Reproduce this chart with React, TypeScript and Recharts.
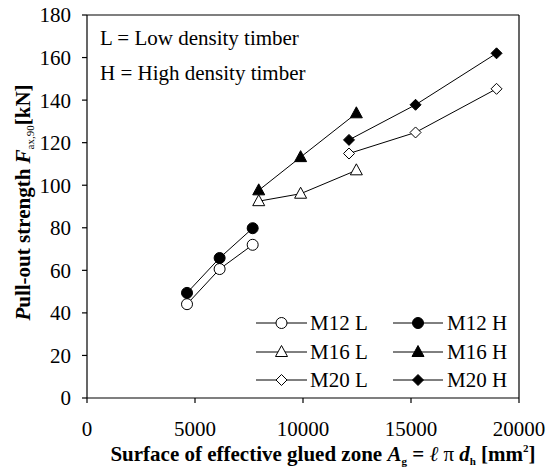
import React from 'react';
import { ScatterChart, Scatter, XAxis, YAxis, ReferenceLine, Customized, Label } from 'recharts';

// Surface of effective glued zone A_g [mm²] vs pull-out strength F_ax,90 [kN]
const m12L = [{ x: 4630, y: 44.1 }, { x: 6140, y: 60.6 }, { x: 7670, y: 72.0 }];
const m12H = [{ x: 4630, y: 49.4 }, { x: 6140, y: 65.8 }, { x: 7670, y: 79.8 }];
const m16L = [{ x: 7950, y: 92.5 }, { x: 9890, y: 96.0 }, { x: 12470, y: 107.0 }];
const m16H = [{ x: 7950, y: 97.6 }, { x: 9890, y: 113.2 }, { x: 12470, y: 133.8 }];
const m20L = [{ x: 12130, y: 114.9 }, { x: 15210, y: 124.8 }, { x: 18960, y: 145.3 }];
const m20H = [{ x: 12130, y: 121.3 }, { x: 15210, y: 137.8 }, { x: 18960, y: 162.0 }];

const xTicks = [0, 5000, 10000, 15000, 20000];
const yTicks = [0, 20, 40, 60, 80, 100, 120, 140, 160, 180];

const notes = ['L = Low density timber', 'H = High density timber'];

type Kind = 'circle' | 'triangle' | 'diamond';
const seriesDefs: { name: string; data: { x: number; y: number }[]; kind: Kind; filled: boolean }[] = [
  { name: 'M12 L', data: m12L, kind: 'circle', filled: false },
  { name: 'M12 H', data: m12H, kind: 'circle', filled: true },
  { name: 'M16 L', data: m16L, kind: 'triangle', filled: false },
  { name: 'M16 H', data: m16H, kind: 'triangle', filled: true },
  { name: 'M20 L', data: m20L, kind: 'diamond', filled: false },
  { name: 'M20 H', data: m20H, kind: 'diamond', filled: true },
];

const FONT = '"Liberation Serif", "Times New Roman", serif';
const FS = 21;

const Marker = ({ cx, cy, kind, filled }: { cx: number; cy: number; kind: Kind; filled: boolean }) => {
  const fill = filled ? '#000' : '#fff';
  if (kind === 'circle') return <circle cx={cx} cy={cy} r={5.5} fill={fill} stroke="#000" strokeWidth={1} />;
  if (kind === 'triangle')
    return (
      <polygon
        points={`${cx},${cy - 6.5} ${cx + 6},${cy + 4.5} ${cx - 6},${cy + 4.5}`}
        fill={fill}
        stroke="#000"
        strokeWidth={1}
      />
    );
  const d = 5.5;
  return (
    <polygon
      points={`${cx},${cy - d} ${cx + d},${cy} ${cx},${cy + d} ${cx - d},${cy}`}
      fill={fill}
      stroke="#000"
      strokeWidth={1}
    />
  );
};

const LegendBox = () => {
  const rows = [323, 352, 380];
  const cols = [
    { x1: 256, x2: 307, tx: 310 },
    { x1: 393, x2: 443, tx: 447 },
  ];
  return (
    <g>
      {seriesDefs.map((s, i) => {
        const r = rows[Math.floor(i / 2)];
        const c = cols[i % 2];
        const mx = (c.x1 + c.x2) / 2;
        return (
          <g key={s.name}>
            <line x1={c.x1} x2={c.x2} y1={r} y2={r} stroke="#000" strokeWidth={1} />
            <Marker cx={mx} cy={r} kind={s.kind} filled={s.filled} />
            <text x={c.tx} y={r + 7} fontFamily={FONT} fontSize={FS} fill="#000">
              {s.name}
            </text>
          </g>
        );
      })}
    </g>
  );
};

const Notes = () => (
  <g>
    {notes.map((t, i) => (
      <text key={t} x={100} y={45 + i * 35} fontFamily={FONT} fontSize={FS} fill="#000">
        {t}
      </text>
    ))}
  </g>
);

const XTitle = (props: any) => {
  const vb = props.viewBox || { x: 87, y: 398, width: 432, height: 69 };
  const cx = vb.x + vb.width / 2 + 20;
  return (
    <text x={cx} y={vb.y + 63} textAnchor="middle" fontFamily={FONT} fontSize={FS} fontWeight="bold" fill="#000">
      <tspan>Surface of effective glued zone </tspan>
      <tspan fontStyle="italic">A</tspan>
      <tspan fontSize={11} dy={4}>g</tspan>
      <tspan dy={-4}> = </tspan>
      <tspan fontWeight="normal" fontStyle="italic">ℓ</tspan>
      <tspan fontWeight="normal"> π </tspan>
      <tspan fontStyle="italic">d</tspan>
      <tspan fontSize={11} dy={4}>h</tspan>
      <tspan dy={-4}> [mm</tspan>
      <tspan fontSize={11} dy={-9}>2</tspan>
      <tspan dy={9}>]</tspan>
    </text>
  );
};

const YTitle = (props: any) => {
  const vb = props.viewBox || { x: 0, y: 15, width: 87, height: 383 };
  const x = 30;
  const y = vb.y + vb.height / 2 - 4;
  return (
    <text
      x={x}
      y={y}
      transform={`rotate(-90, ${x}, ${y})`}
      textAnchor="middle"
      fontFamily={FONT}
      fontSize={FS}
      fontWeight="bold"
      fill="#000"
    >
      <tspan fontStyle="italic">P</tspan>
      <tspan>ull-out strength </tspan>
      <tspan fontStyle="italic">F</tspan>
      <tspan fontSize={11} fontWeight="normal" dy={4}>ax,90</tspan>
      <tspan dy={-4}>[kN]</tspan>
    </text>
  );
};

const tickStyle = { fill: '#000', fontSize: FS, fontFamily: FONT };

export default function App() {
  return (
    <div style={{ position: 'absolute', left: 0, top: 0, width: 554, height: 467, background: '#fff' }}>
      <ScatterChart width={554} height={467} margin={{ top: 15, right: 35, bottom: 0, left: 0 }}>
        <XAxis
          type="number"
          dataKey="x"
          domain={[0, 20000]}
          ticks={xTicks}
          tickSize={5}
          tickMargin={18}
          height={69}
          axisLine={{ stroke: '#000', strokeWidth: 1.2 }}
          tickLine={{ stroke: '#000', strokeWidth: 1.2 }}
          tick={tickStyle}
          interval={0}
          allowDataOverflow
        >
          <Label content={<XTitle />} />
        </XAxis>
        <YAxis
          type="number"
          dataKey="y"
          domain={[0, 180]}
          ticks={yTicks}
          tickSize={5}
          tickMargin={11}
          width={87}
          axisLine={{ stroke: '#000', strokeWidth: 1.2 }}
          tickLine={{ stroke: '#000', strokeWidth: 1.2 }}
          tick={tickStyle}
          interval={0}
          allowDataOverflow
        >
          <Label content={<YTitle />} />
        </YAxis>
        <ReferenceLine y={180} stroke="#000" strokeWidth={1.2} />
        <ReferenceLine x={20000} stroke="#000" strokeWidth={1.2} />
        {seriesDefs.map((s) => (
          <Scatter
            key={s.name}
            name={s.name}
            data={s.data}
            isAnimationActive={false}
            line={{ stroke: '#000', strokeWidth: 1 }}
            shape={(p: any) => <Marker cx={p.cx} cy={p.cy} kind={s.kind} filled={s.filled} />}
          />
        ))}
        <Customized component={<Notes />} />
        <Customized component={<LegendBox />} />
      </ScatterChart>
    </div>
  );
}
